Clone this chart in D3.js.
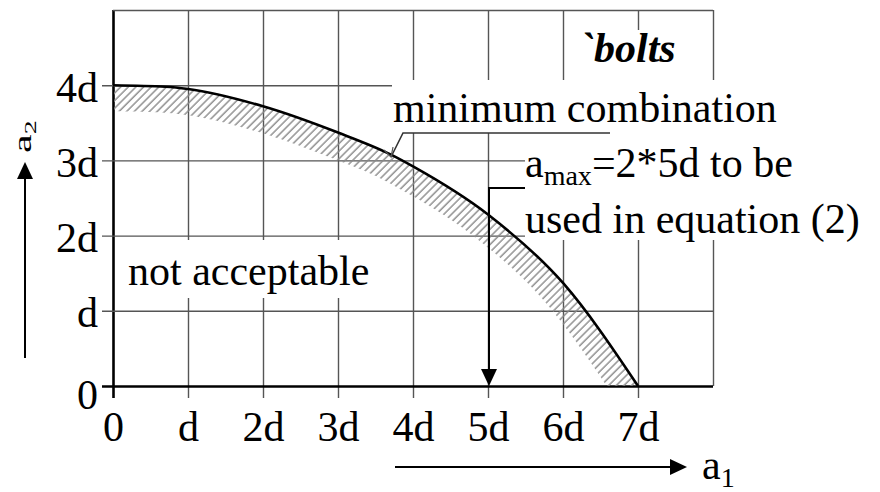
<!DOCTYPE html>
<html>
<head>
<meta charset="utf-8">
<script src="https://cdn.jsdelivr.net/npm/d3@7"></script>
<style>
  html, body { margin: 0; padding: 0; background: #fff; }
  svg { display: block; }
  text { font-family: "Liberation Serif", "Times New Roman", serif; fill: #000; }
</style>
</head>
<body>
<div id="chart"></div>
<script>
// ---- data ----
const xTickValues = [0, 1, 2, 3, 4, 5, 6, 7, 8];
const xTickLabels = ["0", "d", "2d", "3d", "4d", "5d", "6d", "7d", ""];
const yTickValues = [0, 1, 2, 3, 4, 5];
const yTickLabels = ["0", "d", "2d", "3d", "4d", ""];
// minimum combination curve (a1, a2 in units of d)
const curveA1 = [0, 0.7, 1, 2, 3, 3.7, 4, 5, 6, 7];
const curveA2 = [4, 3.98, 3.95, 3.72, 3.37, 3.08, 2.92, 2.28, 1.37, 0];
const aMaxValue = 5;   // a_max arrow position (5d)

(function () {
const W = 880, H = 492;
const svg = d3.select("#chart").append("svg").attr("width", W).attr("height", H)
  .attr("font-family", "Liberation Serif, Times New Roman, serif");

const x = d3.scaleLinear().domain([0, 8]).range([113, 713]);
const y = d3.scaleLinear().domain([0, 5]).range([386, 10]);
const FS = 42, SUB = 28;
const gridColor = "#555";

// ---- grid via axes ----
const gx = svg.append("g")
  .attr("transform", `translate(0,${y(0) + 12})`)
  .call(d3.axisBottom(x).tickValues(xTickValues).tickSizeInner(-(y(0) + 12 - y(5))).tickSizeOuter(0).tickPadding(0)
    .tickFormat((d, i) => xTickLabels[i]));
gx.attr("font-family", null).attr("font-size", null);
gx.select(".domain").remove();
gx.selectAll(".tick line").attr("stroke", gridColor).attr("stroke-width", 1.4);
gx.selectAll(".tick").filter(d => d === 8).select("line").attr("y1", -12);
gx.selectAll(".tick text").attr("dy", null).attr("y", 43).attr("font-size", FS).attr("fill", "#000");

const gy = svg.append("g")
  .attr("transform", `translate(${x(0) - 11},0)`)
  .call(d3.axisLeft(y).tickValues(yTickValues).tickSizeInner(-(x(8) - x(0) + 11)).tickSizeOuter(0).tickPadding(4)
    .tickFormat((d, i) => yTickLabels[i]));
gy.attr("font-family", null).attr("font-size", null);
gy.select(".domain").remove();
gy.selectAll(".tick line").attr("stroke", gridColor).attr("stroke-width", 1.4);
gy.selectAll(".tick").filter(d => d === 5).select("line").attr("x1", 11);
gy.selectAll(".tick text").attr("dy", null).attr("y", d => d === 0 ? 22 : 16).attr("font-size", FS).attr("fill", "#000");

// axes (thick lines for 0)
gx.selectAll(".tick").filter(d => d === 0).select("line").attr("stroke", "#000").attr("stroke-width", 2.6);
gy.selectAll(".tick").filter(d => d === 0).select("line").attr("stroke", "#000").attr("stroke-width", 2.6);
gx.selectAll(".tick").filter(d => d === 0).raise();
gy.selectAll(".tick").filter(d => d === 0).raise();

// ---- hatch pattern ----
const defs = svg.append("defs");
const pat = defs.append("pattern").attr("id", "hatch").attr("patternUnits", "userSpaceOnUse")
  .attr("width", 5.4).attr("height", 5.4).attr("patternTransform", "rotate(45)");
pat.append("line").attr("x1", 1).attr("y1", 0).attr("x2", 1).attr("y2", 5.4)
  .attr("stroke", "#888").attr("stroke-width", 1.4);
defs.append("clipPath").attr("id", "plotclip").append("rect")
  .attr("x", x(0) + 1).attr("y", y(5)).attr("width", x(8) - x(0) - 1).attr("height", y(0) - y(5));

const pts = curveA1.map((v, i) => [v, curveA2[i]]);
const lineGen = d3.line().x(d => x(d[0])).y(d => y(d[1])).curve(d3.curveMonotoneX);

const hatchG = svg.append("g").attr("clip-path", "url(#plotclip)");
const curvePath = svg.append("path").datum(pts).attr("d", lineGen)
  .attr("fill", "none").attr("stroke", "#000").attr("stroke-width", 2.6);

// band below curve
const node = curvePath.node();
const L = node.getTotalLength();
const N = 240, off = 26;
const samples = d3.range(N + 1).map(i => node.getPointAtLength(L * i / N));
const upper = samples.map(p => [p.x, p.y]);
const lower = samples.map((p, i) => {
  const a = samples[Math.max(0, i - 1)], b = samples[Math.min(N, i + 1)];
  let tx = b.x - a.x, ty = b.y - a.y;
  const len = Math.hypot(tx, ty) || 1; tx /= len; ty /= len;
  return [p.x - ty * off, p.y + tx * off];
});
const band = upper.concat(lower.reverse());
hatchG.append("path").attr("d", "M" + band.map(p => p.join(",")).join("L") + "Z")
  .attr("fill", "url(#hatch)").attr("stroke", "none");
curvePath.raise();

// ---- white label boxes ----
const boxes = [
  [392, 80, 400, 53],
  [525, 133, 342, 107],
  [575, 30, 105, 50],
  [118, 240, 262, 58]
];
svg.selectAll("rect.box").data(boxes).enter().append("rect").attr("class", "box")
  .attr("x", d => d[0]).attr("y", d => d[1]).attr("width", d => d[2]).attr("height", d => d[3])
  .attr("fill", "#fff");

// ---- texts ----
svg.append("text").attr("x", 580).attr("y", 62).attr("font-size", FS)
  .attr("font-weight", "bold").attr("font-style", "italic").text("`bolts");
svg.append("text").attr("x", 393).attr("y", 122).attr("font-size", FS).text("minimum combination");
const t1 = svg.append("text").attr("x", 525).attr("y", 177).attr("font-size", FS);
t1.append("tspan").text("a");
t1.append("tspan").attr("dy", 8).attr("font-size", SUB).text("max");
t1.append("tspan").attr("dy", -8).text("=2*5d to be");
svg.append("text").attr("x", 525).attr("y", 233).attr("font-size", FS).text("used in equation (2)");
svg.append("text").attr("x", 128).attr("y", 285).attr("font-size", FS).text("not acceptable");

// leader for minimum combination
svg.append("path").attr("d", "M610,133 L403,133 L391,157")
  .attr("fill", "none").attr("stroke", "#333").attr("stroke-width", 1.6);
svg.append("path").attr("d", "M384,150 L391,157 L393,147")
  .attr("fill", "none").attr("stroke", "#555").attr("stroke-width", 1.2);

// a_max arrow
const ax = x(aMaxValue) + 1;
svg.append("path").attr("d", `M525,188 L${ax},188 L${ax},${y(0) - 14}`)
  .attr("fill", "none").attr("stroke", "#000").attr("stroke-width", 2);
svg.append("path").attr("d", `M${ax},${y(0)} L${ax - 8},${y(0) - 17} L${ax + 8},${y(0) - 17} Z`).attr("fill", "#000");

// ---- axis titles with arrows ----
svg.append("line").attr("x1", 25).attr("y1", 358).attr("x2", 25).attr("y2", 175)
  .attr("stroke", "#000").attr("stroke-width", 2);
svg.append("path").attr("d", "M25,162 L17,179 L33,179 Z").attr("fill", "#000");
const ya = svg.append("text").attr("transform", "translate(31,153) scale(0.6,1) rotate(-90)").attr("font-size", FS);
ya.append("tspan").text("a");
ya.append("tspan").attr("dy", 8).attr("font-size", SUB).text("2");

svg.append("line").attr("x1", 395).attr("y1", 467).attr("x2", 675).attr("y2", 467)
  .attr("stroke", "#000").attr("stroke-width", 2);
svg.append("path").attr("d", "M687,467 L670,459 L670,475 Z").attr("fill", "#000");
const xa = svg.append("text").attr("x", 702).attr("y", 479).attr("font-size", FS);
xa.append("tspan").text("a");
xa.append("tspan").attr("dy", 8).attr("font-size", SUB).text("1");
})();
</script>
</body>
</html>
